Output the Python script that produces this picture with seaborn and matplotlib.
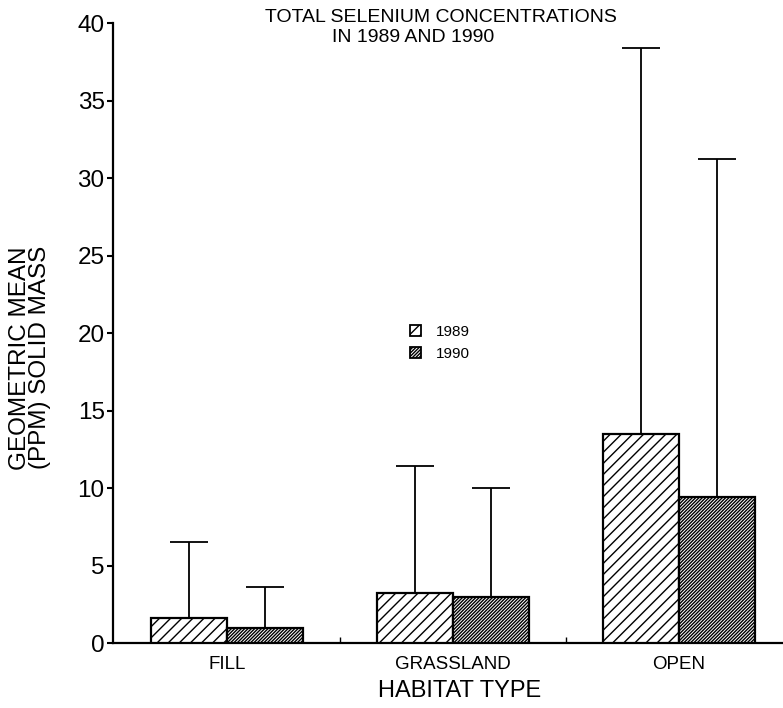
import pandas as pd
import matplotlib
matplotlib.use("Agg")
import matplotlib.pyplot as plt
import seaborn as sns

# values
habitats = ["FILL", "GRASSLAND", "OPEN"]
years = ["1989", "1990"]
mean_1989 = [1.6, 3.2, 13.5]
mean_1990 = [1.0, 3.0, 9.4]
upper_1989 = [6.5, 11.4, 38.4]
upper_1990 = [3.6, 10.0, 31.2]

df = pd.DataFrame({
    "habitat": habitats * 2,
    "year": [years[0]] * 3 + [years[1]] * 3,
    "mean": mean_1989 + mean_1990,
})
uppers = {"1989": upper_1989, "1990": upper_1990}
means = {"1989": mean_1989, "1990": mean_1990}

sns.set_style("ticks")
plt.rcParams['font.family'] = ['Liberation Sans', 'DejaVu Sans']
plt.rcParams['hatch.linewidth'] = 1.0
plt.rcParams['hatch.color'] = 'black'
for k in ['text.color', 'axes.labelcolor', 'xtick.color', 'ytick.color', 'axes.edgecolor']:
    plt.rcParams[k] = 'black'

fig = plt.figure(figsize=(7.83, 7.08), dpi=100)
ax = fig.add_axes([0.1443, 0.0918, 0.8557, 0.8757])

sns.barplot(data=df, x="habitat", y="mean", hue="year", order=habitats,
            hue_order=years, palette=["white", "white"], width=0.67,
            edgecolor="black", linewidth=1.6, errorbar=None, ax=ax, zorder=3)

hatches = {"1989": "///", "1990": "//////////"}
for cont, yr in zip(ax.containers, years):
    xs = []
    for p in cont.patches:
        p.set_hatch(hatches[yr])
        xs.append(p.get_x() + p.get_width() / 2)
    err = [u - m for u, m in zip(uppers[yr], means[yr])]
    ax.errorbar(xs, means[yr], yerr=[[0] * len(err), err], fmt="none",
                ecolor="black", elinewidth=1.3, capsize=13.5, capthick=1.3,
                zorder=2)

ax.set_ylim(0, 40)
ax.set_xlim(-0.504, 2.46)
ax.set_yticks(range(0, 41, 5))
ax.set_xticks([0.5, 1.5], minor=True)
ax.tick_params(axis="y", labelsize=17.5, length=4, width=1.5, pad=2)
ax.tick_params(axis="x", which="major", labelsize=13.5, length=0, pad=9)
ax.tick_params(axis="x", which="minor", length=4, width=1, direction="in")
for s in ["top", "right"]:
    ax.spines[s].set_visible(False)
ax.spines["left"].set_linewidth(1.6)
ax.spines["bottom"].set_linewidth(1.6)

ax.set_xlabel("HABITAT TYPE", fontsize=17)
ax.xaxis.set_label_coords(0.518, -0.06)
ax.set_ylabel("GEOMETRIC MEAN\n(PPM) SOLID MASS", fontsize=17.5, linespacing=0.85)
ax.yaxis.label.set_va("center")
ax.yaxis.set_label_coords(-0.124, 0.46)

fig.text(0.563, 0.975, "TOTAL SELENIUM CONCENTRATIONS", ha="center", va="center",
         fontsize=14)
fig.text(0.528, 0.947, "IN 1989 AND 1990", ha="center", va="center", fontsize=14)

leg = ax.legend(loc="center left", bbox_to_anchor=(0.423, 0.484), frameon=False,
                fontsize=11, handlelength=0.7, handleheight=0.7,
                handletextpad=1.0, labelspacing=0.55)
for h, yr in zip(leg.legend_handles, years):
    h.set_hatch(hatches[yr])
    h.set_linewidth(1.3)
    h.set_edgecolor("black")

plt.savefig("out.png", dpi=100)
